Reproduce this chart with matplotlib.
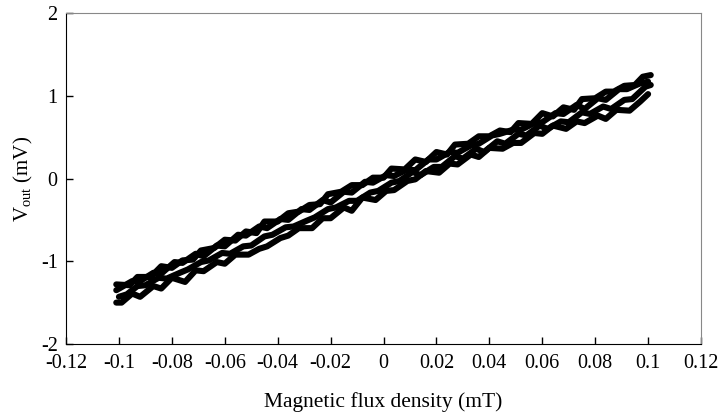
import matplotlib
matplotlib.use("Agg")
import matplotlib.pyplot as plt

# traced branches of the V_out vs B loop (x in mT, y in mV)
up1_x = [-0.101, -0.099, -0.095, -0.092, -0.087, -0.084, -0.080, -0.075, -0.071, -0.068,
         -0.063, -0.060, -0.056, -0.051, -0.047, -0.044, -0.039, -0.036, -0.032, -0.027,
         -0.023, -0.020, -0.015, -0.012, -0.008, -0.003, 0.001, 0.004, 0.009, 0.012,
         0.016, 0.021, 0.025, 0.028, 0.033, 0.036, 0.040, 0.045, 0.049, 0.052,
         0.057, 0.060, 0.064, 0.069, 0.073, 0.076, 0.081, 0.084, 0.088, 0.093,
         0.097, 0.100]
up1_y = [-1.50, -1.50, -1.39, -1.43, -1.30, -1.33, -1.20, -1.25, -1.11, -1.12,
         -1.01, -1.03, -0.92, -0.92, -0.85, -0.82, -0.72, -0.69, -0.60, -0.60,
         -0.48, -0.48, -0.35, -0.39, -0.23, -0.26, -0.15, -0.14, -0.03, -0.01,
         0.09, 0.07, 0.18, 0.17, 0.29, 0.26, 0.37, 0.36, 0.43, 0.43,
         0.55, 0.54, 0.64, 0.60, 0.69, 0.67, 0.76, 0.72, 0.83, 0.82,
         0.93, 1.02]

dn1_x = [0.101, 0.098, 0.095, 0.091, 0.087, 0.084, 0.080, 0.075, 0.072, 0.068,
         0.064, 0.060, 0.056, 0.051, 0.048, 0.044, 0.040, 0.036, 0.032, 0.027,
         0.024, 0.020, 0.016, 0.012, 0.008, 0.003, 0.000, -0.004, -0.008, -0.012,
         -0.016, -0.021, -0.024, -0.028, -0.032, -0.036, -0.040, -0.045, -0.048, -0.052,
         -0.056, -0.060, -0.064, -0.069, -0.072, -0.076, -0.080, -0.084, -0.088, -0.093,
         -0.096, -0.101]
dn1_y = [1.25, 1.23, 1.13, 1.12, 1.05, 1.05, 0.97, 0.96, 0.83, 0.86,
         0.75, 0.79, 0.66, 0.67, 0.56, 0.58, 0.51, 0.51, 0.42, 0.41,
         0.29, 0.32, 0.20, 0.23, 0.11, 0.12, 0.01, 0.01, -0.08, -0.08,
         -0.16, -0.19, -0.31, -0.32, -0.40, -0.42, -0.52, -0.52, -0.66, -0.64,
         -0.75, -0.74, -0.84, -0.87, -0.98, -0.99, -1.08, -1.06, -1.19, -1.19,
         -1.29, -1.28]

up2_x = [-0.100, -0.097, -0.093, -0.090, -0.085, -0.082, -0.077, -0.074, -0.069, -0.066,
         -0.061, -0.058, -0.053, -0.050, -0.045, -0.042, -0.037, -0.034, -0.029, -0.026,
         -0.021, -0.018, -0.013, -0.010, -0.005, -0.002, 0.003, 0.006, 0.011, 0.014,
         0.019, 0.022, 0.027, 0.030, 0.035, 0.038, 0.043, 0.046, 0.051, 0.054,
         0.059, 0.062, 0.067, 0.070, 0.075, 0.078, 0.083, 0.086, 0.091, 0.094,
         0.099, 0.101]
up2_y = [-1.43, -1.40, -1.30, -1.29, -1.20, -1.21, -1.14, -1.10, -1.01, -0.99,
         -0.90, -0.91, -0.82, -0.81, -0.70, -0.68, -0.59, -0.58, -0.51, -0.47,
         -0.37, -0.35, -0.27, -0.27, -0.17, -0.15, -0.05, -0.03, 0.08, 0.04,
         0.14, 0.14, 0.27, 0.24, 0.36, 0.32, 0.45, 0.42, 0.54, 0.52,
         0.64, 0.60, 0.69, 0.68, 0.80, 0.78, 0.87, 0.84, 0.95, 0.96,
         1.11, 1.13]

dn2_x = [0.100, 0.097, 0.092, 0.089, 0.084, 0.081, 0.076, 0.073, 0.068, 0.065,
         0.060, 0.057, 0.052, 0.049, 0.044, 0.041, 0.036, 0.033, 0.028, 0.025,
         0.020, 0.017, 0.012, 0.009, 0.004, 0.001, -0.004, -0.007, -0.012, -0.015,
         -0.020, -0.023, -0.028, -0.031, -0.036, -0.039, -0.044, -0.047, -0.052, -0.055,
         -0.060, -0.063, -0.068, -0.071, -0.076, -0.079, -0.084, -0.087, -0.092, -0.095,
         -0.101]
dn2_y = [1.17, 1.15, 1.08, 1.08, 0.95, 0.97, 0.84, 0.89, 0.78, 0.79,
         0.68, 0.67, 0.59, 0.59, 0.54, 0.52, 0.42, 0.40, 0.31, 0.32,
         0.23, 0.23, 0.10, 0.11, 0.03, 0.04, -0.05, -0.04, -0.17, -0.16,
         -0.29, -0.26, -0.38, -0.37, -0.50, -0.49, -0.60, -0.58, -0.69, -0.68,
         -0.82, -0.81, -0.94, -0.91, -1.02, -1.01, -1.15, -1.14, -1.24, -1.24,
         -1.35]

xticks = [-0.12, -0.1, -0.08, -0.06, -0.04, -0.02, 0, 0.02, 0.04, 0.06, 0.08, 0.1, 0.12]
xtick_labels = ["-0.12", "-0.1", "-0.08", "-0.06", "-0.04", "-0.02", "0",
                "0.02", "0.04", "0.06", "0.08", "0.1", "0.12"]
yticks = [-2, -1, 0, 1, 2]
ytick_labels = ["-2", "-1", "0", "1", "2"]

plt.rcParams["font.family"] = ["Liberation Serif", "DejaVu Serif"]

fig = plt.figure(figsize=(7.19, 4.2), dpi=100)
ax = fig.add_axes([0.0918, 0.181, 0.8832, 0.788])

for xs, ys in [(up1_x, up1_y), (dn1_x, dn1_y), (up2_x, up2_y), (dn2_x, dn2_y)]:
    ax.plot(xs, ys, color="black", lw=4.4, solid_joinstyle="round", solid_capstyle="round")

ax.set_xlim(-0.12, 0.12)
ax.set_ylim(-2, 2)
ax.set_xticks(xticks)
ax.set_xticklabels(xtick_labels)
ax.set_yticks(yticks)
ax.set_yticklabels(ytick_labels)
ax.tick_params(direction="in", length=5, width=1, labelsize=14.5)
ax.tick_params(axis="x", pad=7)
ax.tick_params(axis="y", pad=6)
for s in ["top", "right"]:
    ax.spines[s].set_color("#888888")
for s in ["left", "bottom"]:
    ax.spines[s].set_color("black")

ax.set_xlabel("Magnetic flux density (mT)", fontsize=15.5, labelpad=14)
ax.set_ylabel(r"V$_\mathregular{out}$ (mV)", fontsize=15, labelpad=4)

fig.savefig("out.png", dpi=100)
